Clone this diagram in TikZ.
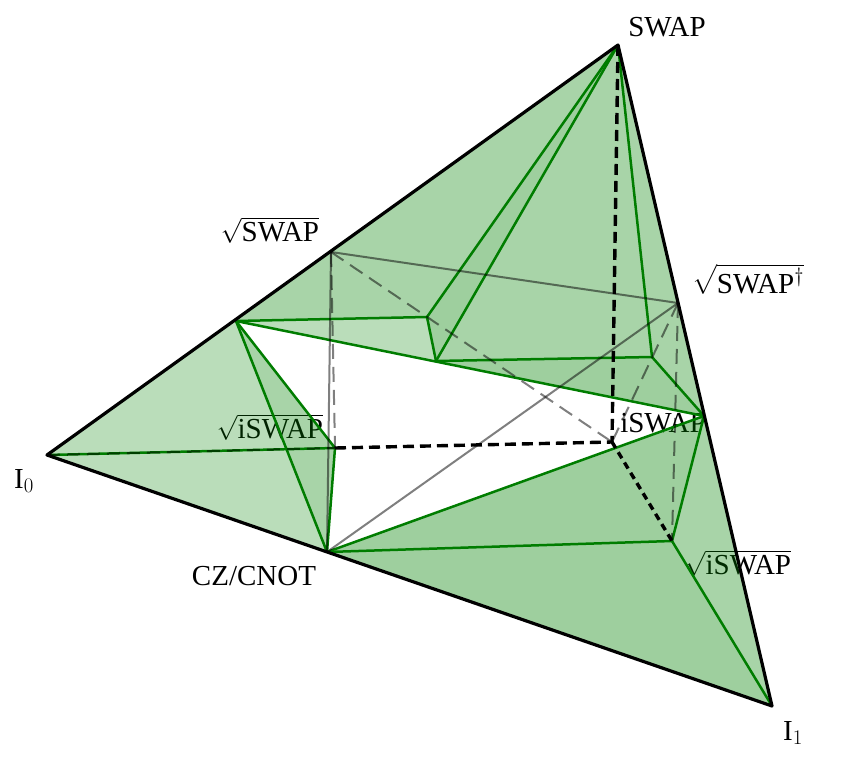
\documentclass[tikz,border=0pt]{standalone}
\usepackage{amsmath}
\usepackage{fontspec}
\setmainfont{Liberation Serif}
\usetikzlibrary{positioning}
\definecolor{facet}{RGB}{0,128,0}
\definecolor{edgegreen}{RGB}{0,125,0}
\tikzset{
    facetlight/.style={
        fill=facet,
        fill opacity=0.27
    },
    facetmid/.style={
        fill=facet,
        fill opacity=0.34
    },
    facetdark/.style={
        fill=facet,
        fill opacity=0.38
    },
    outline/.style={
        draw=black,
        line width=3.2pt,
        line join=round
    },
    edge/.style={
        draw=edgegreen,
        line width=2.5pt
    },
    hidden/.style={
        draw=black,
        draw opacity=0.5,
        line width=2pt
    },
    hiddendash/.style={
        hidden,
        dash pattern=on 15pt off 8pt
    },
    backdash/.style={
        draw=black,
        line width=3.4pt,
        dash pattern=on 11pt off 6pt
    },
    label/.style={
        font=\fontsize{29}{32}\selectfont,
        inner sep=0pt,
        text=black
    }
}

\begin{document}
\begin{tikzpicture}[x=1pt, y=-1pt]
    \useasboundingbox (0,0) rectangle (842,757);

    % Vertices
    \coordinate (swap) at (618,45);
    \coordinate (izero) at (47,455);
    \coordinate (ione) at (772,706);
    \coordinate (cz) at (327,552);
    \coordinate (rootswap) at (331,252);
    \coordinate (rootdag) at (678,303);
    \coordinate (bleft) at (236,321);
    \coordinate (dtop) at (427,317);
    \coordinate (etop) at (436,361);
    \coordinate (fright) at (652,357);
    \coordinate (iswapfront) at (704,416);
    \coordinate (iswapback) at (612,442);
    \coordinate (rootileft) at (335,448);
    \coordinate (rootiright) at (672,541);

    % Labels
    \node[label] (lswap) at (667,27) {SWAP};
    \node[label] (lrootswap) at (270,230) {$\sqrt{\mbox{SWAP}}$};
    \node[label] (lrootdag) at (748,279) {$\sqrt{\mbox{SWAP}^\dagger}$};
    \node[label] (lrootileft) at (270,427) {$\sqrt{\mbox{iSWAP}}$};
    \node[label] (liswap) at (663,423) {iSWAP};
    \node[label] (lrootiright) at (738,563) {$\sqrt{\mbox{iSWAP}}$};
    \node[label] (lcz) at (254,576) {CZ/CNOT};
    \node[label] (lizero) at (24,481) {I$_0$};
    \node[label] (lione) at (793,733) {I$_1$};

    % Faces
    \fill[facetlight] (izero) -- (bleft) -- (cz) -- cycle;
    \fill[facetmid] (bleft) -- (rootileft) -- (cz) -- cycle;
    \fill[facetmid] (bleft) -- (swap) -- (dtop) -- cycle;
    \fill[facetlight] (bleft) -- (dtop) -- (etop) -- cycle;
    \fill[facetdark] (dtop) -- (swap) -- (etop) -- cycle;
    \fill[facetmid] (etop) -- (swap) -- (fright) -- cycle;
    \fill[facetmid] (fright) -- (swap) -- (iswapfront) -- cycle;
    \fill[facetdark] (etop) -- (fright) -- (iswapfront) -- cycle;
    \fill[facetdark] (cz) -- (iswapfront) -- (rootiright) -- cycle;
    \fill[facetdark] (cz) -- (rootiright) -- (ione) -- cycle;
    \fill[facetmid] (rootiright) -- (iswapfront) -- (ione) -- cycle;

    % Green edges
    \foreach \from/\to in {
        izero/rootileft,
        rootileft/cz,
        rootileft/bleft,
        bleft/cz,
        bleft/dtop,
        bleft/iswapfront,
        dtop/etop,
        dtop/swap,
        etop/swap,
        etop/fright,
        fright/swap,
        fright/iswapfront,
        iswapfront/cz,
        iswapfront/rootiright,
        rootiright/cz,
        rootiright/ione%
    } {
        \draw[edge] (\from) -- (\to);
    }

    % Hidden edges
    \foreach \from/\to in {rootswap/rootdag, rootswap/cz, rootdag/cz} {
        \draw[hidden] (\from) -- (\to);
    }
    \foreach \from/\to in {rootswap/rootileft, rootswap/iswapback, rootdag/iswapback, rootdag/rootiright} {
        \draw[hiddendash] (\from) -- (\to);
    }
    \draw[hidden, dash pattern=on 13pt off 7pt] (izero) -- (rootileft);

    % Back edges
    \draw[backdash] (swap) -- (iswapback);
    \draw[backdash] (rootileft) -- (iswapback);
    \draw[backdash, dash pattern=on 7pt off 5pt] (iswapback) -- (rootiright);

    % Outline
    \draw[outline] (izero) -- (swap) -- (ione) -- cycle;
\end{tikzpicture}
\end{document}
